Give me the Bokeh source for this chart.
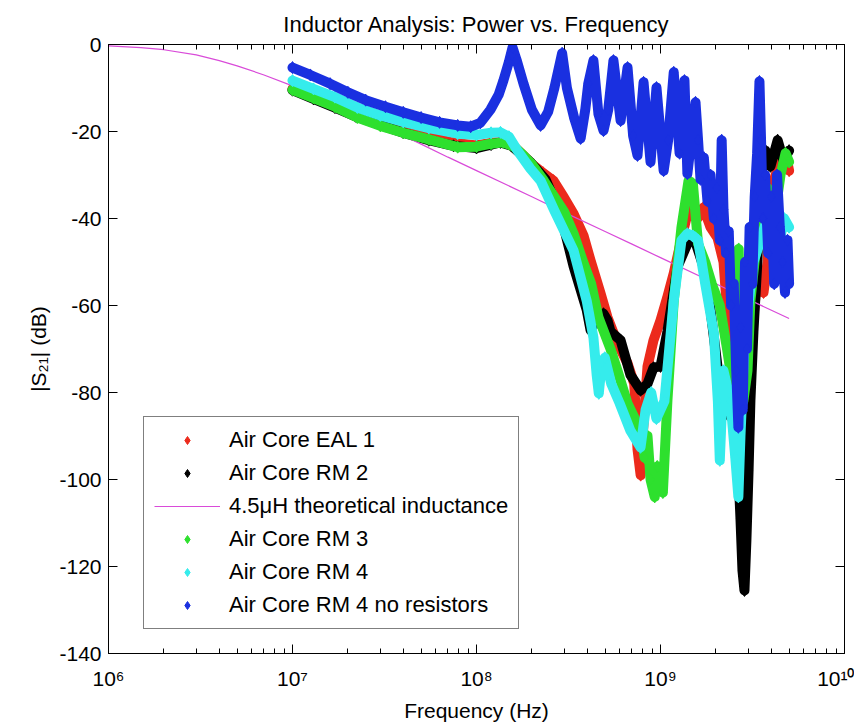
from bokeh.plotting import figure
from bokeh.models import (FixedTicker, LogAxis, LinearAxis, Legend, LegendItem,
                          CustomJSTickFormatter, Range1d)
from bokeh.embed import file_html
from bokeh.resources import INLINE

# ---------------- data ----------------
x_major_ticks = [1e6, 1e7, 1e8, 1e9, 1e10]
x_minor_ticks = [m * 10.0 ** e for e in range(6, 10) for m in range(2, 10)]
y_ticks = [-140, -120, -100, -80, -60, -40, -20, 0]

f_eal1 = [1.0e7, 1.3e7, 1.7e7, 2.2e7, 3.0e7, 4.0e7, 5.5e7, 7.5e7,
          1.0e8, 1.2e8, 1.4e8, 1.6e8, 1.8e8, 2.0e8, 2.3e8, 2.62e8, 2.97e8, 3.37e8, 3.82e8,
          4.17e8, 4.72e8, 5.15e8, 5.84e8, 6.62e8, 7.2e8, 7.5e8, 7.8e8, 8.0e8, 8.5e8, 9.16e8,
          1.0e9, 1.09e9, 1.18e9, 1.33e9, 1.42e9, 1.49e9, 1.59e9, 1.71e9, 1.87e9, 2.04e9,
          2.2e9, 2.31e9, 2.49e9, 2.62e9, 2.72e9, 2.82e9, 2.97e9, 3.08e9, 3.28e9, 3.49e9,
          3.63e9, 3.82e9, 3.96e9, 4.22e9, 4.49e9, 4.78e9, 5.0e9]
db_eal1 = [-10.2, -12.2, -14.0, -15.8, -17.8, -19.5, -21.2, -22.6,
           -23.2, -22.6, -22.4, -23.5, -25.5, -27.5, -29.5, -31.3, -35.0, -38.9, -44.0,
           -49.7, -57.2, -62.7, -68.7, -73.3, -78.0, -93.0, -99.0, -90.0, -74.0, -68.0,
           -63.4, -58.0, -52.6, -42.8, -38.0, -36.0, -40.0, -37.5, -42.0, -44.4,
           -50.0, -62.0, -74.0, -85.0, -70.0, -80.0, -60.0, -70.0, -58.0, -52.0,
           -57.0, -50.0, -34.0, -30.0, -27.0, -25.0, -29.0]

f_rm2 = [1.0e7, 1.3e7, 1.7e7, 2.2e7, 3.0e7, 4.0e7, 5.5e7, 7.5e7,
         1.0e8, 1.2e8, 1.35e8, 1.55e8, 1.67e8, 1.96e8, 2.37e8, 2.86e8, 3.37e8, 3.97e8,
         4.17e8, 4.54e8, 4.9e8, 5.15e8, 5.35e8, 6.07e8, 6.87e8, 7.79e8, 8.5e8, 9.16e8,
         1.0e9, 1.09e9, 1.24e9, 1.4e9, 1.51e9, 1.71e9, 1.87e9, 2.04e9, 2.2e9, 2.31e9,
         2.49e9, 2.62e9, 2.72e9, 2.79e9, 2.86e9, 2.93e9, 3.01e9, 3.08e9, 3.2e9, 3.36e9,
         3.49e9, 3.72e9, 3.96e9, 4.33e9, 4.66e9, 5.0e9]
db_rm2 = [-10.5, -12.5, -14.5, -16.5, -18.5, -20.3, -22.0, -23.3,
          -23.8, -23.0, -22.5, -23.3, -24.5, -27.0, -31.0, -38.9, -51.0, -61.0,
          -65.7, -63.0, -61.9, -63.4, -66.0, -68.0, -76.0, -79.5, -78.0, -74.3,
          -74.0, -66.0, -51.0, -45.8, -44.0, -51.0, -61.0, -74.0, -79.5, -85.0,
          -84.0, -93.0, -109.0, -121.0, -125.5, -114.0, -98.0, -82.0, -66.0, -50.0,
          -31.0, -24.4, -28.0, -22.0, -26.7, -24.4]

f_theory = [1e6, 1.5e6, 2e6, 3e6, 4e6, 5e6, 7e6, 1e7, 1.5e7, 2e7, 3e7, 5e7, 7e7,
            1e8, 2e8, 3e8, 5e8, 7e8, 1e9, 2e9, 3e9, 5e9]
db_theory = [-0.3, -0.7, -1.2, -2.4, -3.7, -4.9, -7.0, -9.5, -12.6, -15.0, -18.4, -22.9, -25.9,
             -29.0, -35.0, -38.6, -43.0, -45.9, -49.0, -55.0, -58.6, -63.0]

f_rm3 = [1.0e7, 1.3e7, 1.7e7, 2.25e7, 3.0e7, 4.0e7, 5.5e7, 7.9e7,
         1.0e8, 1.2e8, 1.4e8, 1.6e8, 1.8e8, 2.0e8, 2.3e8, 2.52e8, 3.0e8, 3.37e8, 3.8e8,
         4.2e8, 4.6e8, 5.35e8, 5.84e8, 6.62e8, 7.79e8, 8.2e8, 8.5e8, 8.83e8, 9.3e8, 9.6e8,
         1.03e9, 1.09e9, 1.18e9, 1.3e9, 1.42e9, 1.5e9, 1.6e9, 1.75e9, 1.9e9, 2.1e9,
         2.3e9, 2.5e9, 2.62e9, 2.66e9, 2.72e9, 2.82e9, 2.97e9, 3.08e9, 3.28e9, 3.49e9,
         3.82e9, 4.22e9, 4.49e9, 4.78e9, 5.0e9]
db_rm3 = [-10.4, -12.3, -14.3, -16.8, -18.7, -20.3, -21.8, -23.6,
          -23.5, -22.8, -22.5, -23.5, -25.5, -27.5, -31.0, -33.6, -38.5, -43.5, -50.0,
          -55.0, -62.7, -70.0, -75.0, -82.5, -88.7, -95.0, -90.0, -100.0, -104.0, -97.0,
          -103.0, -82.0, -59.0, -42.0, -31.3, -32.0, -45.8, -50.0, -55.0, -60.0,
          -70.0, -80.0, -66.0, -47.0, -70.0, -82.0, -75.0, -59.0, -48.0, -40.0,
          -33.0, -38.0, -30.0, -25.0, -27.0]

f_rm4 = [1.0e7, 1.3e7, 1.7e7, 2.25e7, 3.0e7, 4.0e7, 5.5e7, 7.9e7,
         1.0e8, 1.2e8, 1.35e8, 1.5e8, 1.67e8, 1.96e8, 2.23e8, 2.65e8, 3.37e8, 3.97e8,
         4.32e8, 4.5e8, 4.62e8, 4.8e8, 4.98e8, 5.4e8, 6.0e8, 6.85e8, 7.79e8, 8.3e8, 8.9e8, 9.5e8,
         1.05e9, 1.18e9, 1.3e9, 1.4e9, 1.5e9, 1.6e9, 1.75e9, 1.95e9, 2.05e9, 2.1e9,
         2.2e9, 2.4e9, 2.55e9, 2.65e9, 2.72e9, 2.85e9, 3.0e9, 3.2e9, 3.5e9, 3.8e9,
         4.1e9, 4.4e9, 4.7e9, 5.0e9]
db_rm4 = [-8.3, -10.2, -12.1, -14.5, -16.3, -17.8, -19.2, -20.5,
          -20.8, -20.3, -20.2, -21.2, -24.4, -28.5, -31.3, -38.2, -47.4, -58.9,
          -67.4, -76.0, -80.2, -73.0, -72.0, -78.0, -82.5, -88.7, -92.6, -84.0, -80.0, -86.0,
          -82.0, -58.9, -45.0, -43.5, -44.0, -45.0, -55.0, -66.4, -82.0, -95.6,
          -75.0, -82.0, -95.0, -104.0, -90.0, -70.0, -60.0, -50.0, -45.0, -40.0,
          -36.0, -46.0, -40.0, -42.0]

f_nores = [1.0e7, 1.25e7, 1.6e7, 2.0e7, 2.5e7, 3.2e7, 4.0e7, 5.0e7, 6.3e7, 7.9e7, 9.3e7,
           1.05e8, 1.19e8, 1.32e8, 1.4e8, 1.5e8, 1.57e8, 1.65e8, 1.8e8, 2.0e8, 2.23e8,
           2.45e8, 2.65e8, 2.92e8, 3.1e8, 3.4e8, 3.68e8, 3.9e8, 4.05e8, 4.32e8, 4.6e8, 4.9e8,
           5.2e8, 5.55e8, 6.07e8, 6.62e8, 7.1e8, 7.5e8, 8.09e8, 8.83e8, 9.51e8, 1.04e9, 1.1e9,
           1.18e9, 1.27e9,
           1.35e9, 1.4e9, 1.55e9, 1.6e9, 1.65e9, 1.72e9, 1.8e9, 1.87e9, 1.95e9, 2.02e9,
           2.1e9, 2.15e9, 2.2e9, 2.27e9, 2.35e9, 2.42e9, 2.5e9, 2.58e9, 2.65e9, 2.72e9,
           2.8e9, 2.88e9, 2.95e9, 3.05e9, 3.15e9, 3.25e9, 3.35e9, 3.45e9, 3.52e9, 3.6e9,
           3.7e9, 3.85e9, 4.0e9, 4.15e9, 4.3e9, 4.45e9, 4.6e9, 4.75e9, 4.9e9, 5.0e9]
db_nores = [-5.3, -7.0, -9.0, -11.0, -12.8, -14.3, -15.6, -16.8, -17.9, -18.6, -18.9,
            -18.0, -15.0, -11.5, -8.3, -4.0, -0.7, -3.5, -9.0, -15.0, -18.6,
            -15.5, -10.0, -2.0, -10.0, -17.0, -21.6, -15.0, -9.0, -3.7, -16.0, -19.8,
            -15.0, -3.7, -17.5, -5.3, -21.0, -25.5, -8.7, -27.0, -9.9, -29.0, -22.0,
            -6.4, -25.0,
            -8.3, -29.7, -13.3, -22.0, -31.0, -26.0, -36.0, -30.0, -40.0, -33.0,
            -45.0, -22.0, -38.0, -48.0, -43.0, -60.0, -55.0, -75.0, -88.0, -65.0,
            -84.0, -50.0, -70.0, -42.0, -55.0, -35.0, -25.0, -8.5, -22.0, -40.0,
            -30.0, -48.0, -35.0, -55.0, -30.0, -42.0, -50.0, -57.0, -45.0, -55.0]

labels = ["Air Core EAL 1", "Air Core RM 2", "4.5\u03bcH theoretical inductance",
          "Air Core RM 3", "Air Core RM 4", "Air Core RM 4 no resistors"]

# ---------------- figure ----------------
FONT = "Liberation Sans"

p = figure(frame_width=736, frame_height=609, x_axis_type="log",
           x_range=Range1d(1e6, 1e10), y_range=Range1d(-140, 0),
           output_backend="svg", toolbar_location=None,
           min_border_left=108, min_border_right=10, min_border_top=44, min_border_bottom=71,
           background_fill_color="white", border_fill_color="white")
p.xgrid.visible = False
p.ygrid.visible = False
p.outline_line_color = "black"
p.outline_line_width = 1

p.title.text = "Inductor Analysis: Power vs. Frequency"
p.title.align = "center"
p.title.text_font = FONT
p.title.text_font_size = "22px"
p.title.text_font_style = "normal"
p.title.text_color = "black"
p.title.standoff = 16

xt = FixedTicker(ticks=x_major_ticks, minor_ticks=x_minor_ticks)
yt = FixedTicker(ticks=y_ticks, minor_ticks=[])

sup_code = """
const sup = {"0":"\u2070","1":"\u00b9","2":"\u00b2","3":"\u00b3","4":"\u2074",
             "5":"\u2075","6":"\u2076","7":"\u2077","8":"\u2078","9":"\u2079"};
const e = Math.round(Math.log10(tick));
return "10" + String(e).split("").map(c => sup[c]).join("");
"""

def style_axis(ax):
    ax.major_tick_in = 9
    ax.major_tick_out = 0
    ax.minor_tick_in = 5
    ax.minor_tick_out = 0
    ax.axis_line_color = "black"
    ax.major_tick_line_color = "black"
    ax.minor_tick_line_color = "black"
    ax.major_label_text_font = FONT
    ax.major_label_text_font_size = "21px"
    ax.major_label_text_color = "black"
    ax.axis_label_text_font = FONT
    ax.axis_label_text_font_size = "21px"
    ax.axis_label_text_font_style = "normal"
    ax.axis_label_text_color = "black"

xa = p.xaxis[0]
xa.ticker = xt
xa.formatter = CustomJSTickFormatter(code=sup_code)
xa.axis_label = "Frequency (Hz)"
style_axis(xa)
xa.major_label_standoff = 13
xa.axis_label_standoff = 6

ya = p.yaxis[0]
ya.ticker = yt
ya.formatter = CustomJSTickFormatter(code="return tick.toFixed(0);")
ya.axis_label = "|S\u2082\u2081| (dB)"
style_axis(ya)
ya.major_label_standoff = 7
ya.axis_label_standoff = 6

blank = "return '';"
top_ax = LogAxis(ticker=xt, formatter=CustomJSTickFormatter(code=blank))
style_axis(top_ax)
top_ax.major_label_standoff = 0
top_ax.major_label_text_font_size = "1px"
p.add_layout(top_ax, "above")

right_ax = LinearAxis(ticker=yt, formatter=CustomJSTickFormatter(code=blank))
style_axis(right_ax)
right_ax.major_label_standoff = 0
right_ax.major_label_text_font_size = "1px"
p.add_layout(right_ax, "right")

# ---------------- series ----------------
C_RED = "#ec2a1c"
C_BLACK = "#000000"
C_MAG = "#d94bd9"
C_GREEN = "#2ee02e"
C_CYAN = "#35ecec"
C_BLUE = "#1a30e0"

BAND = 10
MS = 12

def series(f, db, color):
    p.line(f, db, line_color=color, line_width=BAND, line_join="round", line_cap="round")
    return p.scatter(f, db, marker="diamond", size=MS, fill_color=color, line_color=color)

r_eal1 = series(f_eal1, db_eal1, C_RED)
r_rm2 = series(f_rm2, db_rm2, C_BLACK)
r_th = p.line(f_theory, db_theory, line_color=C_MAG, line_width=1.2)
r_rm3 = series(f_rm3, db_rm3, C_GREEN)
r_rm4 = series(f_rm4, db_rm4, C_CYAN)
r_nores = series(f_nores, db_nores, C_BLUE)

legend = Legend(items=[LegendItem(label=labels[0], renderers=[r_eal1]),
                       LegendItem(label=labels[1], renderers=[r_rm2]),
                       LegendItem(label=labels[2], renderers=[r_th]),
                       LegendItem(label=labels[3], renderers=[r_rm3]),
                       LegendItem(label=labels[4], renderers=[r_rm4]),
                       LegendItem(label=labels[5], renderers=[r_nores])],
                location=(35, 24))
legend.label_text_font = FONT
legend.label_text_font_size = "22px"
legend.label_text_color = "black"
legend.glyph_width = 66
legend.glyph_height = 20
legend.label_height = 20
legend.label_standoff = 9
legend.spacing = 7
legend.padding = 10
legend.margin = 0
legend.border_line_color = "black"
legend.border_line_width = 1
legend.background_fill_color = "white"
legend.background_fill_alpha = 1.0
p.add_layout(legend)

open("out.html", "w").write(file_html(p, INLINE))
